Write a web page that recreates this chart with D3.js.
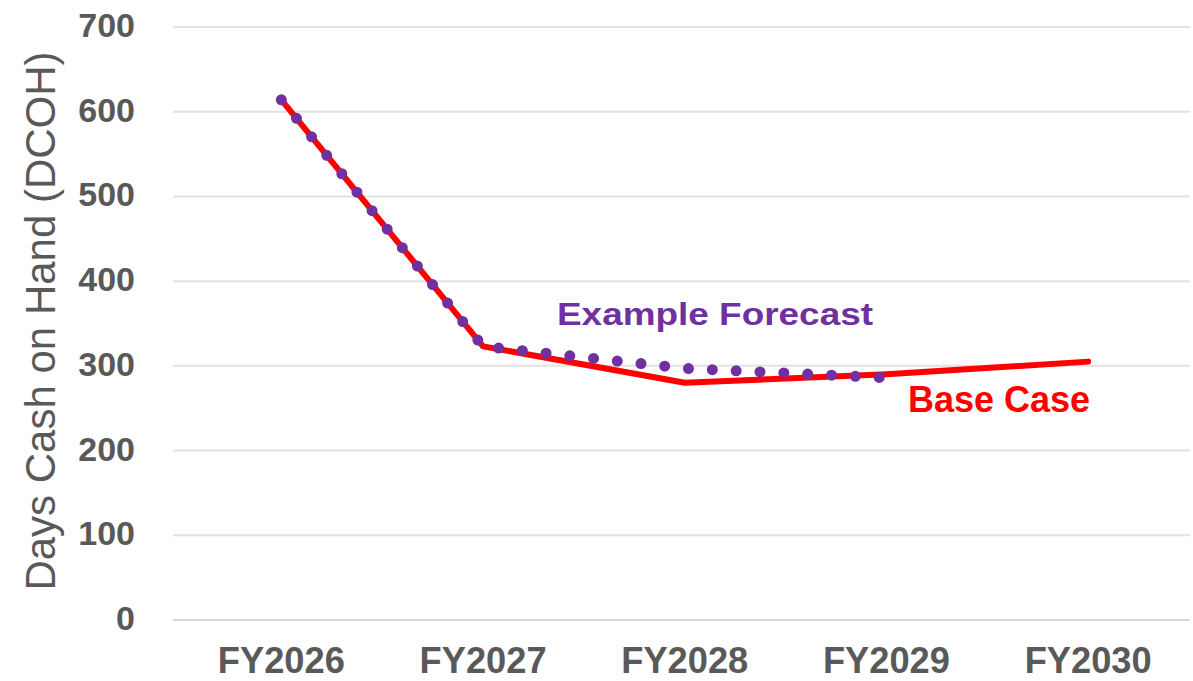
<!DOCTYPE html>
<html>
<head>
<meta charset="utf-8">
<script src="https://cdn.jsdelivr.net/npm/d3@7"></script>
<style>
  html, body { margin: 0; padding: 0; background: #ffffff; }
  svg { display: block; }
  text { font-family: "Liberation Sans", Arial, sans-serif; }
</style>
</head>
<body>
<svg id="chart" width="1193" height="681"></svg>
<script>
// Fiscal years on the x axis
const years = ["FY2026", "FY2027", "FY2028", "FY2029", "FY2030"];
// Days cash on hand, base case scenario
const baseCase = [614, 323, 280, 290, 305];
// Days cash on hand, example forecast (runs through FY2029)
const exampleForecast = [614, 323, 297, 286];
// Y axis ticks
const yTicks = [0, 100, 200, 300, 400, 500, 600, 700];

const svg = d3.select("#chart");

const x = d3.scalePoint().domain(years).range([180.5, 1189]).padding(0.5);
const y = d3.scaleLinear().domain([0, 700]).range([620, 27]);

const grey = "#595959";

// Horizontal gridlines
svg.append("g")
  .selectAll("line")
  .data(yTicks)
  .join("line")
  .attr("x1", 173).attr("x2", 1190)
  .attr("y1", d => y(d)).attr("y2", d => y(d))
  .attr("stroke", d => d === 0 ? "#d6d6d6" : "#e2e2e2")
  .attr("stroke-width", 2);

// Y tick labels
svg.append("g")
  .selectAll("text")
  .data(yTicks)
  .join("text")
  .attr("x", 135)
  .attr("y", d => y(d) + 10)
  .attr("text-anchor", "end")
  .attr("font-size", 34)
  .attr("font-weight", "bold")
  .attr("fill", grey)
  .text(d => d);

// X category labels
svg.append("g")
  .selectAll("text")
  .data(years)
  .join("text")
  .attr("x", d => x(d))
  .attr("y", 673)
  .attr("text-anchor", "middle")
  .attr("font-size", 36)
  .attr("font-weight", "bold")
  .attr("fill", grey)
  .attr("textLength", 127)
  .attr("lengthAdjust", "spacingAndGlyphs")
  .text(d => d);

// Y axis title
svg.append("text")
  .attr("transform", "translate(55,321) rotate(-90)")
  .attr("text-anchor", "middle")
  .attr("font-size", 42)
  .attr("fill", grey)
  .text("Days Cash on Hand (DCOH)");

// Base case line
const line = d3.line()
  .x((d, i) => x(years[i]))
  .y(d => y(d));

svg.append("path")
  .datum(baseCase)
  .attr("d", line)
  .attr("fill", "none")
  .attr("stroke", "#ff0000")
  .attr("stroke-width", 6)
  .attr("stroke-linejoin", "round")
  .attr("stroke-linecap", "round");

// Example forecast, round dotted line
svg.append("path")
  .datum(exampleForecast)
  .attr("d", line)
  .attr("fill", "none")
  .attr("stroke", "#7030a0")
  .attr("stroke-width", 11)
  .attr("stroke-linecap", "round")
  .attr("stroke-dasharray", "0 23.87");

// Series labels
svg.append("text")
  .attr("x", 557)
  .attr("y", 325)
  .attr("font-size", 31)
  .attr("font-weight", "bold")
  .attr("fill", "#7030a0")
  .attr("textLength", 316)
  .attr("lengthAdjust", "spacingAndGlyphs")
  .text("Example Forecast");

svg.append("text")
  .attr("x", 908)
  .attr("y", 412)
  .attr("font-size", 36)
  .attr("font-weight", "bold")
  .attr("fill", "#ff0000")
  .text("Base Case");
</script>
</body>
</html>
